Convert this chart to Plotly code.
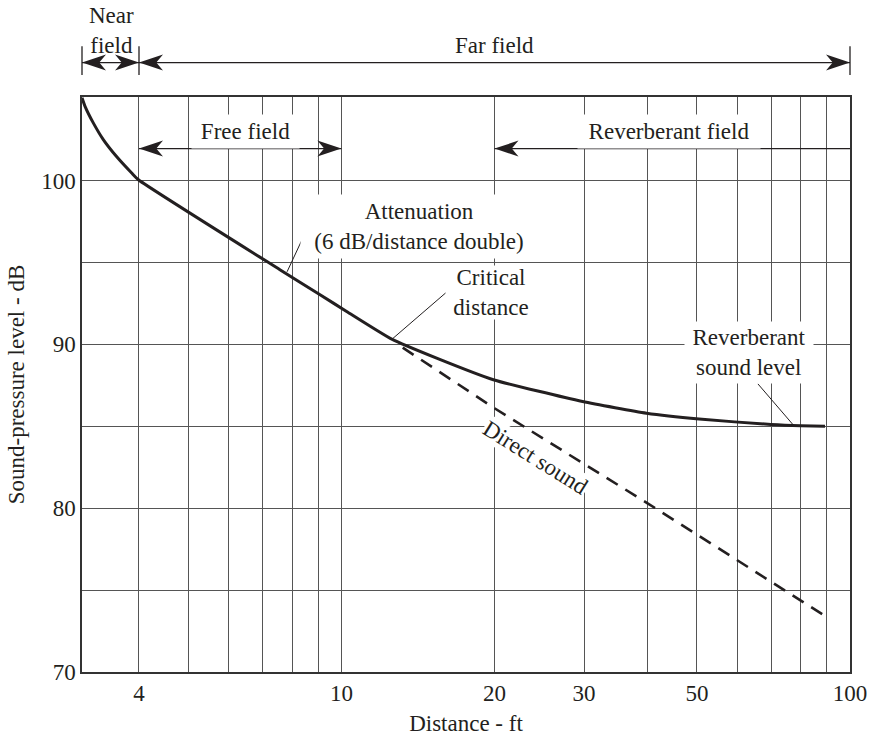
import math
import plotly.graph_objects as go

# ---------------- data ----------------
curve_ft = [3.09, 3.133, 3.252, 3.403, 3.61, 3.87, 3.99, 7.57, 9.08, 10.24, 12.56,
            15.39, 19.9, 29.8, 39.8, 50.5, 69.9, 80.0, 89.3]
curve_db = [105.05, 104.53, 103.52, 102.5, 101.48, 100.46, 100.05, 94.56, 93.03,
            92.01, 90.32, 89.16, 87.84, 86.51, 85.80, 85.44, 85.11, 85.03, 85.0]

direct_ft = [13.2, 20, 30, 40, 89.5]
direct_db = [89.8, 86.1, 82.7, 80.3, 73.4]

x_grid_ft = [4, 5, 6, 7, 8, 9, 10, 20, 30, 40, 50, 60, 70, 80, 90, 100]
x_tick_labels = {4: "4", 10: "10", 20: "20", 30: "30", 50: "50", 100: "100"}
y_grid_db = [70, 75, 80, 85, 90, 95, 100]
y_tick_labels = {70: "70", 80: "80", 90: "90", 100: "100"}

# ---------------- layout constants ----------------
W, H = 871, 736
MARGIN = dict(l=82, r=21, t=97, b=64)
PW = W - MARGIN["l"] - MARGIN["r"]
PH = H - MARGIN["t"] - MARGIN["b"]
X_RANGE = [0.49, 2.0]          # log10(ft)
Y_RANGE = [70, 105.1]
FONT = "Liberation Serif, Times New Roman, serif"
FS = 23
INK = "#231f20"
GRID = "#555555"


def xp(ft):
    return (math.log10(ft) - X_RANGE[0]) / (X_RANGE[1] - X_RANGE[0])


def yp(db):
    return (db - Y_RANGE[0]) / (Y_RANGE[1] - Y_RANGE[0])


def head(x, y, d, L=24, Wd=16):
    lx = L / PW
    wy = (Wd / 2) / PH
    return (f"M{x},{y} L{x - d * lx},{y + wy} L{x - d * 0.72 * lx},{y} "
            f"L{x - d * lx},{y - wy} Z")


fig = go.Figure()
fig.add_trace(go.Scatter(x=direct_ft, y=direct_db, mode="lines",
                         line=dict(color=INK, width=2.6, dash="13px,9px"),
                         hoverinfo="skip", showlegend=False))
fig.add_trace(go.Scatter(x=curve_ft, y=curve_db, mode="lines",
                         line=dict(color=INK, width=3, shape="spline", smoothing=0.5),
                         hoverinfo="skip", showlegend=False))

shapes = []
line_style = dict(color=INK, width=1.3)
# top arrows (near field / far field)
TOP_DB = 107.2
BAR_DB = (106.45, 108.2)
x_left, x_4, x_right = 0.0, xp(4), 1.0
shapes.append(dict(type="line", xref="paper", yref="paper", x0=x_left, x1=x_right,
                   y0=yp(TOP_DB), y1=yp(TOP_DB), line=line_style))
for xb in (x_left, x_4, x_right):
    shapes.append(dict(type="line", xref="paper", yref="paper", x0=xb, x1=xb,
                       y0=yp(BAR_DB[0]), y1=yp(BAR_DB[1]), line=line_style))
for (xx, d) in [(x_left, -1), (x_4, 1), (x_4, -1), (x_right, 1)]:
    shapes.append(dict(type="path", xref="paper", yref="paper",
                       path=head(xx, yp(TOP_DB), d), fillcolor=INK,
                       line=dict(width=0)))
# field arrows inside plot
FIELD_DB = 101.95
shapes.append(dict(type="line", xref="paper", yref="paper", x0=xp(4), x1=xp(10),
                   y0=yp(FIELD_DB), y1=yp(FIELD_DB), line=line_style))
shapes.append(dict(type="line", xref="paper", yref="paper", x0=xp(20), x1=1.0,
                   y0=yp(FIELD_DB), y1=yp(FIELD_DB), line=line_style))
for (ft, d) in [(4, -1), (10, 1), (20, -1)]:
    shapes.append(dict(type="path", xref="paper", yref="paper",
                       path=head(xp(ft), yp(FIELD_DB), d), fillcolor=INK,
                       line=dict(width=0)))
# leader lines
leaders = [((8.40, 96.5), (7.82, 94.43)),
           ((16.13, 93.21), (12.58, 90.32)),
           ((65.9, 87.59), (77.3, 85.09))]
for (a, b) in leaders:
    shapes.append(dict(type="line", xref="paper", yref="paper",
                       x0=xp(a[0]), y0=yp(a[1]), x1=xp(b[0]), y1=yp(b[1]),
                       line=dict(color=INK, width=1)))

annots = []
tf = dict(family=FONT, size=FS, color=INK)


def label(text, ft, db, w=None, h=None, bg=None, angle=0):
    a = dict(text=text, xref="paper", yref="paper", x=xp(ft), y=yp(db),
             xanchor="center", yanchor="middle", showarrow=False, font=tf,
             textangle=angle, borderpad=0)
    if w:
        a["width"] = w
    if h:
        a["height"] = h
    if bg:
        a["bgcolor"] = bg
    annots.append(a)


label("Free field", 6.49, 102.99, 107, 33, "white")
label("Reverberant field", 44.1, 102.99, 182, 33, "white")
label("Attenuation<br>(6 dB/distance double)", 14.18, 97.21, 236, 63, "white")
label("Critical<br>distance", 19.69, 93.15, 90, 53, "white")
label("Reverberant<br>sound level", 63.3, 89.52, 128, 61, "white")
label("Direct sound", 24.03, 83.07, None, None, "white", 32)
label("Far field", 20, 108.27)
annots.append(dict(text="Near<br>field", xref="paper", yref="paper",
                   x=29 / PW, y=yp(109.15), xanchor="center",
                   yanchor="middle", showarrow=False, font=tf))

fig.update_layout(
    width=W, height=H, margin=dict(MARGIN, autoexpand=False),
    paper_bgcolor="white", plot_bgcolor="white",
    font=dict(family=FONT, size=FS, color=INK),
    showlegend=False,
    shapes=shapes, annotations=annots,
    xaxis=dict(type="log", range=X_RANGE, automargin=False,
               tickvals=x_grid_ft,
               ticktext=[x_tick_labels.get(v, "") for v in x_grid_ft],
               showgrid=True, gridcolor=GRID, gridwidth=1,
               showline=True, mirror=True, linecolor="#333", linewidth=1.5,
               ticks="", zeroline=False,
               title=dict(text="Distance - ft", standoff=15,
                          font=dict(family=FONT, size=FS, color=INK))),
    yaxis=dict(range=Y_RANGE, automargin=False,
               tickvals=y_grid_db,
               ticktext=[y_tick_labels.get(v, "") for v in y_grid_db],
               showgrid=True, gridcolor=GRID, gridwidth=1,
               showline=True, mirror=True, linecolor="#333", linewidth=1.5,
               ticks="", zeroline=False,
               title=dict(text="Sound-pressure level - dB", standoff=10,
                          font=dict(family=FONT, size=FS, color=INK))),
)

fig.write_html(
    "out.html",
    config={"displayModeBar": False},
    post_script="document.body.style.margin='0';"
                "document.body.style.overflow='hidden';"
                "document.documentElement.style.overflow='hidden';",
)
